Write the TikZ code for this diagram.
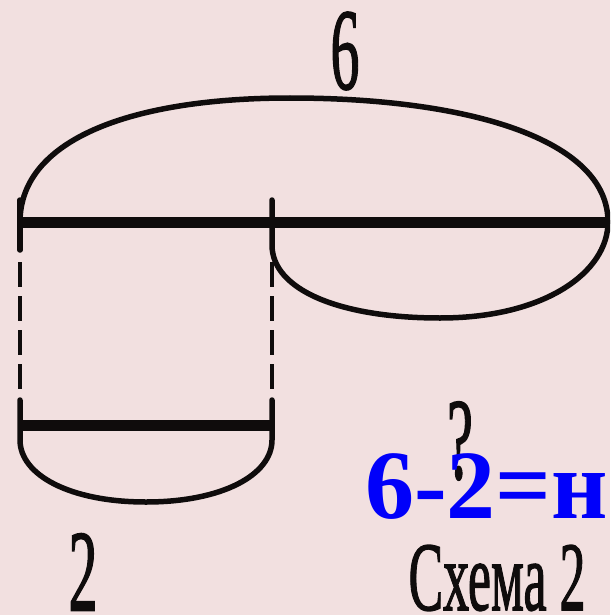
\documentclass[tikz,border=0pt]{standalone}
\usepackage{fontspec}
\setmainfont{Liberation Serif}
\newfontfamily\lblfont{Liberation Serif}[FakeBold=1.6]
\definecolor{paper}{RGB}{242,224,224}
\definecolor{ink}{RGB}{15,12,12}
\definecolor{eqblue}{RGB}{0,0,250}
\tikzset{
  thickline/.style={ink, line width=11pt},
  arcline/.style={ink, line width=5.5pt, line cap=round},
  dashline/.style={ink, line width=4.5pt, dash pattern=on 25pt off 9pt},
  numlabel/.style={ink, inner sep=0pt, xscale=0.5, font=\lblfont\fontsize{116}{116}\selectfont},
  caption/.style={ink, inner sep=0pt, xscale=0.53, font=\lblfont\fontsize{98}{98}\selectfont},
  eqtext/.style={eqblue, inner sep=0pt, anchor=base west, font=\fontsize{98}{98}\selectfont\bfseries}
}
\begin{document}
\begin{tikzpicture}[x=1pt,y=-1pt]
\useasboundingbox (0,0) rectangle (610,615);
\clip (0,0) rectangle (610,615);
\fill[paper] (0,0) rectangle (610,615);
% key points
\coordinate (L) at (20,222);
\coordinate (M) at (272,222);
\coordinate (R) at (608,222);
\coordinate (LL) at (20,425);
\coordinate (LR) at (272,425);
% top arc (6)
\draw[arcline] (L) .. controls (20,140) and (130,98) .. (290,98)
                   .. controls (470,98) and (608,140) .. (R);
% lower right arc (?)
\draw[arcline] (272,200) -- (272,245) .. controls (272,290) and (340,318) .. (440,318)
                   .. controls (545,318) and (608,272) .. (R);
% left vertical solid piece
\draw[arcline] (20,200) -- (20,250);
% main line
\draw[thickline] (L) -- (R);
% dashed verticals
\draw[dashline] (20,262) -- (20,400);
\draw[dashline] (272,262) -- (272,400);
% lower segment and its arc
\draw[arcline] (20,400) -- (20,440) .. controls (20,475) and (70,502) .. (146,502)
                   .. controls (222,502) and (272,475) .. (272,440) -- (272,400);
\draw[thickline] (LL) -- (LR);
% labels
\node[numlabel] (six) at (345,51) {6};
\node[numlabel] (quest) at (460,441) {?};
\node[numlabel] (two) at (83,572) {2};
\node[caption] (cap) at (497,578) {Схема 2};
\node[eqtext] (eq) at (365,518) {6-2=на};
\end{tikzpicture}
\end{document}
